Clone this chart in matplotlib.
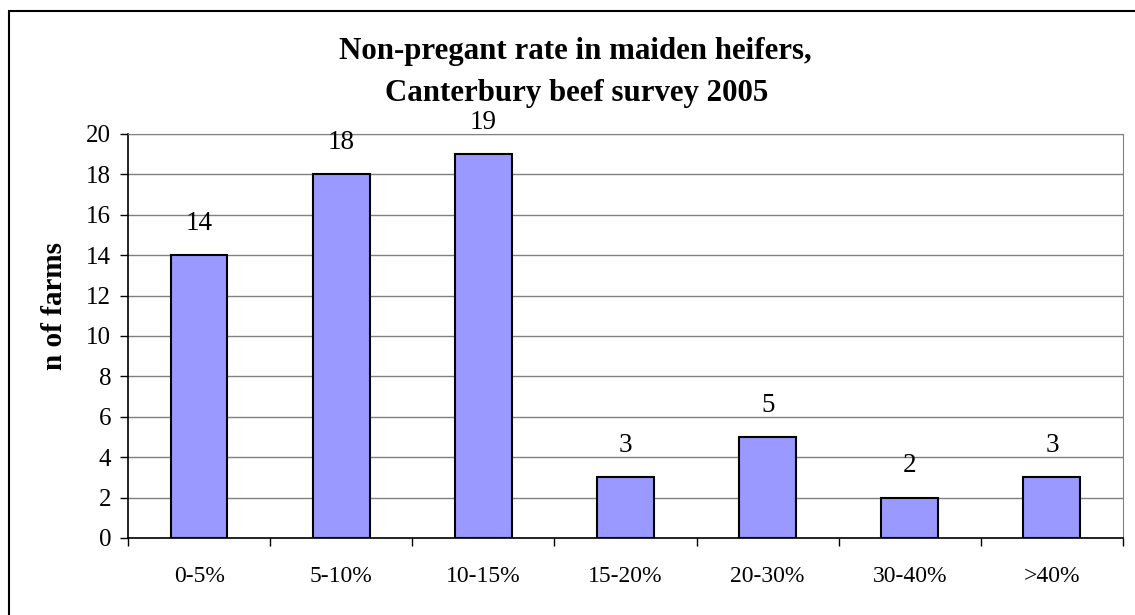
import matplotlib
matplotlib.use("Agg")
import matplotlib.pyplot as plt
from matplotlib.patches import Rectangle
import numpy as np

# data
categories = ["0-5%", "5-10%", "10-15%", "15-20%", "20-30%", "30-40%", ">40%"]
farms = [14, 18, 19, 3, 5, 2, 3]

plt.rcParams["font.family"] = ["Liberation Serif", "DejaVu Serif"]

W, H = 1135, 615
fig = plt.figure(figsize=(W / 100, H / 100), dpi=100)

# outer chart frame (right and bottom edge fall outside the image)
fig.patches.append(Rectangle((8.5 / W, -0.1), 1.2, 1 - 10.5 / H + 0.1,
                             transform=fig.transFigure, fill=False,
                             edgecolor="black", linewidth=1.5))

left, right, top, bottom = 128, 1123, 134, 538
ax = fig.add_axes([left / W, (H - bottom) / H, (right - left) / W, (bottom - top) / H])

x = np.arange(len(categories))
ax.bar(x, farms, width=0.4, color="#9999ff", edgecolor="black", linewidth=1.5, zorder=3)

for xi, v in zip(x, farms):
    ax.annotate(str(v), (xi, v), xytext=(0, 14), textcoords="offset points",
                ha="center", va="bottom", fontsize=19.5)

ax.set_xlim(-0.5, len(categories) - 0.5)
ax.set_ylim(0, 20)
ax.set_yticks(range(0, 21, 2))
ax.tick_params(axis="y", labelsize=18, length=6, width=1, direction="out", pad=6)

ax.set_xticks(x)
ax.set_xticklabels(categories)
ax.set_xticks(np.arange(-0.5, len(categories)), minor=True)
ax.tick_params(axis="x", which="major", length=0, labelsize=17, pad=20)
ax.tick_params(axis="x", which="minor", length=6, width=1, direction="out")

ax.yaxis.grid(True, color="#808080", linewidth=1)
ax.set_axisbelow(True)
for s in ["top", "right"]:
    ax.spines[s].set_color("#808080")
for s in ["left", "bottom"]:
    ax.spines[s].set_color("black")
    ax.spines[s].set_linewidth(1.2)

fig.text(575 / W, 1 - 52 / H, "Non-pregant rate in maiden heifers,", ha="center", va="center",
         fontsize=22.2, fontweight="bold")
fig.text(576.5 / W, 1 - 93 / H, "Canterbury beef survey 2005", ha="center", va="center",
         fontsize=22.2, fontweight="bold")
fig.text(55 / W, 1 - 306 / H, "n of farms", rotation=90, ha="center", va="center",
         fontsize=21, fontweight="bold")

fig.savefig("out.png", dpi=100)
